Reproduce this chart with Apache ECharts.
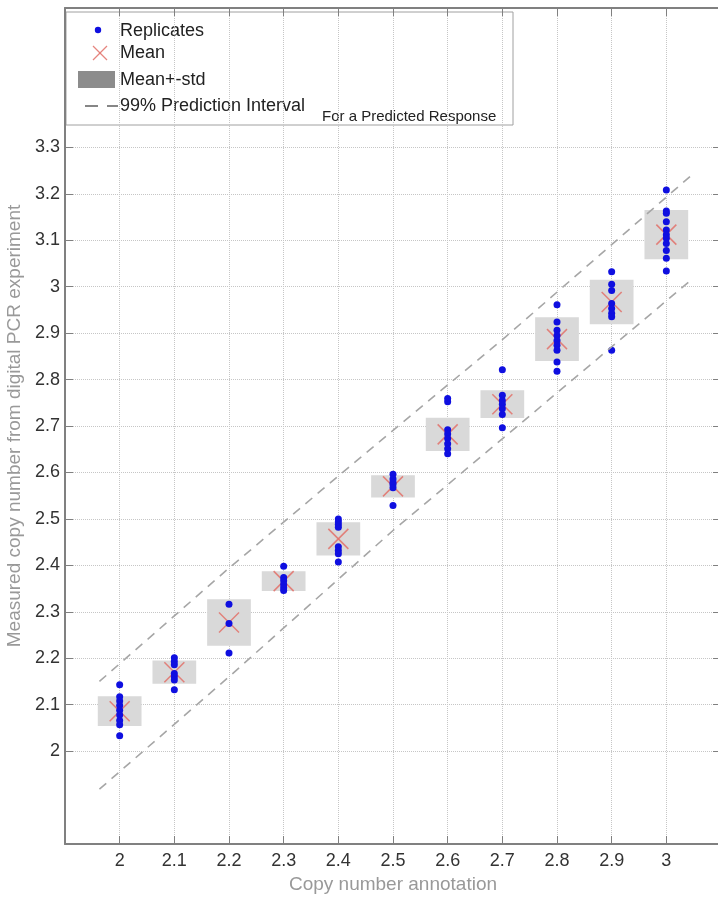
<!DOCTYPE html>
<html>
<head>
<meta charset="utf-8">
<script src="https://cdn.jsdelivr.net/npm/echarts@6/dist/echarts.min.js"></script>
<style>
  html, body { margin: 0; padding: 0; background: #fff; }
  #chart { width: 718px; height: 899px; }
</style>
</head>
<body>
<div id="chart"></div>
<script>
// copy number annotation (x) for each group
const copyNumbers = [2.0, 2.1, 2.2, 2.3, 2.4, 2.5, 2.6, 2.7, 2.8, 2.9, 3.0];

const rep20 = [2.143, 2.117, 2.108, 2.098, 2.088, 2.078, 2.066, 2.057, 2.033];
const rep21 = [2.201, 2.193, 2.186, 2.167, 2.160, 2.153, 2.132];
const rep22 = [2.316, 2.275, 2.211];
const rep23 = [2.398, 2.374, 2.367, 2.359, 2.352, 2.346];
const rep24 = [2.500, 2.494, 2.488, 2.482, 2.440, 2.432, 2.425, 2.407];
const rep25 = [2.596, 2.586, 2.579, 2.574, 2.567, 2.529];
const rep26 = [2.759, 2.752, 2.692, 2.683, 2.673, 2.662, 2.651, 2.640];
const rep27 = [2.821, 2.766, 2.755, 2.747, 2.737, 2.725, 2.696];
const rep28 = [2.961, 2.924, 2.906, 2.895, 2.884, 2.874, 2.863, 2.838, 2.818];
const rep29 = [3.032, 3.005, 2.992, 2.964, 2.953, 2.943, 2.935, 2.863];
const rep30 = [3.208, 3.163, 3.158, 3.140, 3.122, 3.112, 3.104, 3.093, 3.078, 3.061, 3.034];
const replicates = [rep20, rep21, rep22, rep23, rep24, rep25, rep26, rep27, rep28, rep29, rep30];

// mean and std of each group
const means = [2.086, 2.170, 2.277, 2.366, 2.457, 2.570, 2.682, 2.747, 2.887, 2.967, 3.112];
const stds  = [0.032, 0.025, 0.050, 0.021, 0.036, 0.024, 0.036, 0.030, 0.047, 0.048, 0.053];

// 99% prediction interval bounds
const upperPI = [[1.963, 2.150], [2.195, 2.389], [2.427, 2.619], [2.706, 2.892], [3.050, 3.244]];
const lowerPI = [[1.963, 1.918], [2.200, 2.160], [2.500, 2.475], [2.733, 2.705], [3.048, 3.017]];

// tick labels
const xTicks = [2, 2.1, 2.2, 2.3, 2.4, 2.5, 2.6, 2.7, 2.8, 2.9, 3];
const yTicks = [2, 2.1, 2.2, 2.3, 2.4, 2.5, 2.6, 2.7, 2.8, 2.9, 3, 3.1, 3.2, 3.3];

const FONT = "'Liberation Sans', Arial, Helvetica, sans-serif";
const BOX_HALF = 0.04;   // half width of the std boxes, in x units
const CROSS = 10;        // half size of the mean cross, in px
const frameColor = '#808080';
const gridColor = '#c6c6c6';
const meanColor = 'rgba(226,112,104,0.85)';
const dotColor = '#0f0fe0';

const chart = echarts.init(document.getElementById('chart'));

const replicateData = copyNumbers.flatMap((x, i) => replicates[i].map(v => [x, v]));
const statData = copyNumbers.map((x, i) => [x, means[i], stds[i]]);

const frameAxis = (extra) => Object.assign({
  type: 'value',
  axisLine: { show: true, onZero: false, lineStyle: { color: frameColor, width: 2 } },
  axisTick: { show: true, inside: true, length: 8, lineStyle: { color: frameColor, width: 1 } },
  axisLabel: { show: false },
  splitLine: { show: false }
}, extra);

const option = {
  animation: false,
  backgroundColor: '#fff',
  textStyle: { fontFamily: FONT },
  grid: { left: 65, right: -3, top: 8, bottom: 55, containLabel: false, outerBoundsMode: 'none' },
  xAxis: [
    frameAxis({
      min: 1.9, max: 3.1, interval: 0.1, position: 'bottom',
      axisTick: { show: true, inside: true, length: 8, customValues: xTicks, lineStyle: { color: frameColor } },
      axisLabel: { show: true, customValues: xTicks, color: '#333', fontSize: 18, margin: 8, fontFamily: FONT },
      splitLine: { show: true, lineStyle: { type: 'dotted', color: gridColor, width: 1 } },
      name: 'Copy number annotation', nameLocation: 'middle', nameGap: 31,
      nameTextStyle: { color: '#999', fontSize: 19, fontFamily: FONT }
    }),
    frameAxis({
      min: 1.9, max: 3.1, interval: 0.1, position: 'top',
      axisTick: { show: true, inside: true, length: 8, customValues: xTicks, lineStyle: { color: frameColor } }
    })
  ],
  yAxis: [
    frameAxis({
      min: 1.8, max: 3.6, interval: 0.1, position: 'left',
      axisTick: { show: true, inside: true, length: 8, customValues: yTicks, lineStyle: { color: frameColor } },
      axisLabel: { show: true, customValues: yTicks, color: '#333', fontSize: 18, margin: 5, fontFamily: FONT },
      splitLine: { show: true, lineStyle: { type: 'dotted', color: gridColor, width: 1 } },
      name: 'Measured copy number from digital PCR experiment', nameLocation: 'middle', nameGap: 33,
      nameTextStyle: { color: '#999', fontSize: 19, fontFamily: FONT }
    }),
    frameAxis({
      min: 1.8, max: 3.6, interval: 0.1, position: 'right',
      axisTick: { show: true, inside: true, length: 8, customValues: yTicks, lineStyle: { color: frameColor } }
    })
  ],
  series: [
    {
      name: 'Mean+-std',
      type: 'custom',
      data: statData,
      encode: { x: 0, y: 1 },
      silent: true,
      renderItem: (params, api) => {
        const x = api.value(0), m = api.value(1), s = api.value(2);
        const p1 = api.coord([x - BOX_HALF, m + s]);
        const p2 = api.coord([x + BOX_HALF, m - s]);
        return {
          type: 'rect',
          shape: { x: p1[0], y: p1[1], width: p2[0] - p1[0], height: p2[1] - p1[1] },
          style: { fill: '#d9d9d9' }
        };
      }
    },
    {
      name: '99% Prediction Interval',
      type: 'line',
      data: upperPI,
      symbol: 'none',
      silent: true,
      lineStyle: { color: '#a6a6a6', width: 1.6, type: [9, 7] }
    },
    {
      name: '99% Prediction Interval lower',
      type: 'line',
      data: lowerPI,
      symbol: 'none',
      silent: true,
      lineStyle: { color: '#a6a6a6', width: 1.6, type: [9, 7] }
    },
    {
      name: 'Replicates',
      type: 'scatter',
      data: replicateData,
      symbol: 'circle',
      symbolSize: 7,
      itemStyle: { color: dotColor, opacity: 1 }
    },
    {
      name: 'Mean',
      type: 'custom',
      data: statData,
      encode: { x: 0, y: 1 },
      silent: true,
      renderItem: (params, api) => {
        const c = api.coord([api.value(0), api.value(1)]);
        const st = { stroke: meanColor, lineWidth: 1.5 };
        return {
          type: 'group',
          children: [
            { type: 'line', shape: { x1: c[0] - CROSS, y1: c[1] - CROSS, x2: c[0] + CROSS, y2: c[1] + CROSS }, style: st },
            { type: 'line', shape: { x1: c[0] + CROSS, y1: c[1] - CROSS, x2: c[0] - CROSS, y2: c[1] + CROSS }, style: st }
          ]
        };
      }
    }
  ],
  // legend box drawn by hand (MATLAB style, with the subscript text)
  graphic: [
    {
      type: 'group', z: 100, silent: true,
      children: [
        { type: 'rect', shape: { x: 66, y: 12, width: 447, height: 113 }, style: { fill: '#fff', stroke: '#a0a0a0', lineWidth: 1 } },
        { type: 'circle', shape: { cx: 98, cy: 30, r: 3.2 }, style: { fill: dotColor } },
        { type: 'text', x: 120, y: 31, style: { text: 'Replicates', font: '18px ' + FONT, fill: '#222', verticalAlign: 'middle' } },
        { type: 'line', shape: { x1: 93, y1: 46, x2: 107, y2: 60 }, style: { stroke: meanColor, lineWidth: 1.3 } },
        { type: 'line', shape: { x1: 107, y1: 46, x2: 93, y2: 60 }, style: { stroke: meanColor, lineWidth: 1.3 } },
        { type: 'text', x: 120, y: 53, style: { text: 'Mean', font: '18px ' + FONT, fill: '#222', verticalAlign: 'middle' } },
        { type: 'rect', shape: { x: 78, y: 71, width: 37, height: 17 }, style: { fill: '#8c8c8c' } },
        { type: 'text', x: 120, y: 80, style: { text: 'Mean+-std', font: '18px ' + FONT, fill: '#222', verticalAlign: 'middle' } },
        { type: 'line', shape: { x1: 85, y1: 106, x2: 98, y2: 106 }, style: { stroke: '#444', lineWidth: 1.3 } },
        { type: 'line', shape: { x1: 107, y1: 106, x2: 118, y2: 106 }, style: { stroke: '#444', lineWidth: 1.3 } },
        { type: 'text', x: 120, y: 106, style: { text: '99% Prediction Interval', font: '18px ' + FONT, fill: '#222', verticalAlign: 'middle' } },
        { type: 'text', x: 322, y: 117, style: { text: 'For a Predicted Response', font: '15px ' + FONT, fill: '#222', verticalAlign: 'middle' } }
      ]
    }
  ]
};

chart.setOption(option);
</script>
</body>
</html>
